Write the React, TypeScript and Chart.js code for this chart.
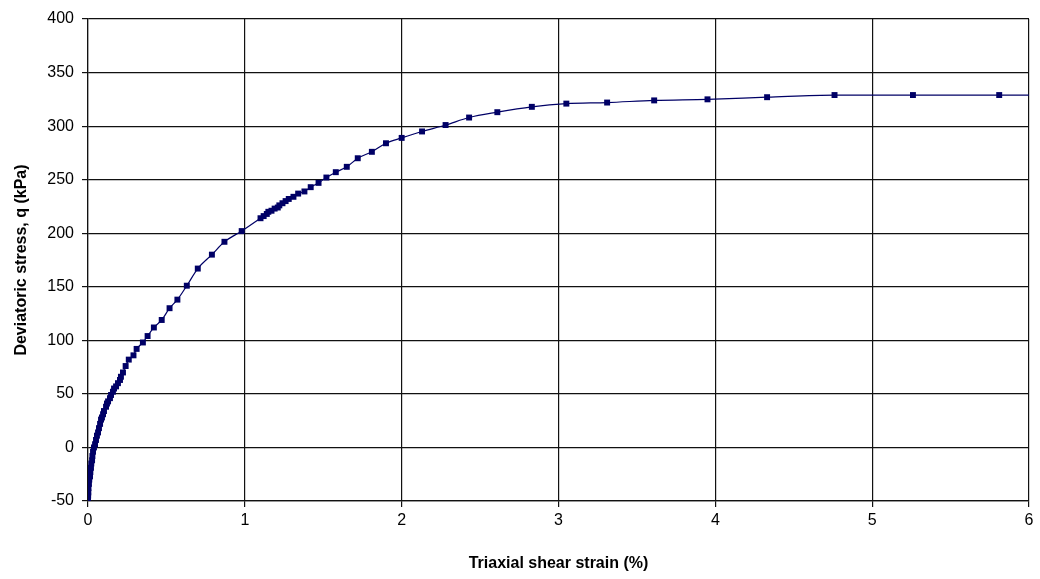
import React, { useEffect, useRef } from "react";
import { Chart, registerables } from "chart.js";

Chart.register(...registerables);

const strain = [
  0.0, 0.001, 0.002, 0.003, 0.006, 0.008, 0.013, 0.015, 0.019, 0.021, 0.026, 0.028, 0.032, 0.038,
  0.045, 0.051, 0.057, 0.064, 0.07, 0.077, 0.083, 0.089, 0.096, 0.102, 0.115, 0.121, 0.128, 0.14,
  0.147, 0.159, 0.166, 0.179, 0.191, 0.204, 0.21, 0.223, 0.24, 0.26, 0.29, 0.31, 0.35, 0.38, 0.42,
  0.47, 0.52, 0.57, 0.63, 0.7, 0.79, 0.87, 0.98, 1.1, 1.12, 1.14, 1.15, 1.17, 1.19, 1.21, 1.22,
  1.24, 1.26, 1.28, 1.31, 1.34, 1.38, 1.42, 1.47, 1.52, 1.58, 1.65, 1.72, 1.81, 1.9, 2.0, 2.13,
  2.28, 2.43, 2.61, 2.83, 3.05, 3.31, 3.61, 3.95, 4.33, 4.76, 5.26, 5.81, 6.3,
];
const stress = [
  -49, -45, -42, -38, -34, -30, -27, -23, -19, -15, -12, -8, -4, 0,
  3, 7, 11, 14, 18, 22, 26, 28, 31, 34, 38, 41, 43, 46,
  49, 52, 55, 57, 60, 63, 66, 70, 76, 82, 86, 92, 98, 104, 112,
  119, 130, 138, 151, 167, 180, 192, 202, 214, 216, 218, 220, 221, 223, 224, 226,
  228, 230, 232, 234, 237, 239, 243, 247, 252, 257, 262, 270, 276, 284, 289, 295,
  301, 308, 313, 318, 321, 322, 324, 325, 327, 329, 329, 329, 329,
];
const xTicks = [0, 1, 2, 3, 4, 5, 6];
const yTicks = [-50, 0, 50, 100, 150, 200, 250, 300, 350, 400];
const xTitle = "Triaxial shear strain (%)";
const yTitle = "Deviatoric stress, q (kPa)";

export default function App() {
  const ref = useRef<HTMLCanvasElement | null>(null);
  useEffect(() => {
    if (!ref.current) return;
    const font = { family: "Arial, 'Liberation Sans', sans-serif", size: 16 };
    const titleFont = { family: "Arial, 'Liberation Sans', sans-serif", size: 16, weight: "bold" as const };
    const chart = new Chart(ref.current, {
      type: "line",
      data: {
        datasets: [
          {
            data: strain.map((x, i) => ({ x, y: stress[i] })),
            borderColor: "#000066",
            backgroundColor: "#000066",
            borderWidth: 1.2,
            pointStyle: "rect",
            pointRadius: 4.2,
            pointBorderWidth: 0,
            pointBackgroundColor: "#000066",
            cubicInterpolationMode: "monotone",
            fill: false,
          },
        ],
      },
      options: {
        responsive: false,
        animation: false,
        layout: { padding: { top: 19, right: 11, bottom: 0, left: 0 } },
        plugins: { legend: { display: false }, tooltip: { enabled: false } },
        scales: {
          x: {
            type: "linear",
            min: 0,
            max: 6,
            afterBuildTicks: (s: any) => {
              s.ticks = xTicks.map((v) => ({ value: v }));
            },
            afterFit: (s: any) => {
              s.height = 78;
            },
            ticks: { color: "#000", font, padding: 4 },
            grid: { color: "#111", lineWidth: 1.2, tickLength: 6 },
            border: { color: "#111", width: 1.2 },
            title: { display: true, text: xTitle, color: "#000", font: titleFont, padding: { top: 8, bottom: 6 } },
          },
          y: {
            type: "linear",
            min: -50,
            max: 400,
            afterBuildTicks: (s: any) => {
              s.ticks = yTicks.map((v) => ({ value: v }));
            },
            afterFit: (s: any) => {
              s.width = 88;
            },
            ticks: { color: "#000", font, padding: 8 },
            grid: { color: "#111", lineWidth: 1.2, tickLength: 6 },
            border: { color: "#111", width: 1.2 },
            title: { display: true, text: yTitle, color: "#000", font: titleFont, padding: { top: 12, bottom: 6 } },
          },
        },
      },
    });
    return () => chart.destroy();
  }, []);
  return (
    <div style={{ position: "absolute", left: 0, top: 0, width: 1040, height: 579, background: "#fff" }}>
      <canvas ref={ref} width={1040} height={579} />
    </div>
  );
}
